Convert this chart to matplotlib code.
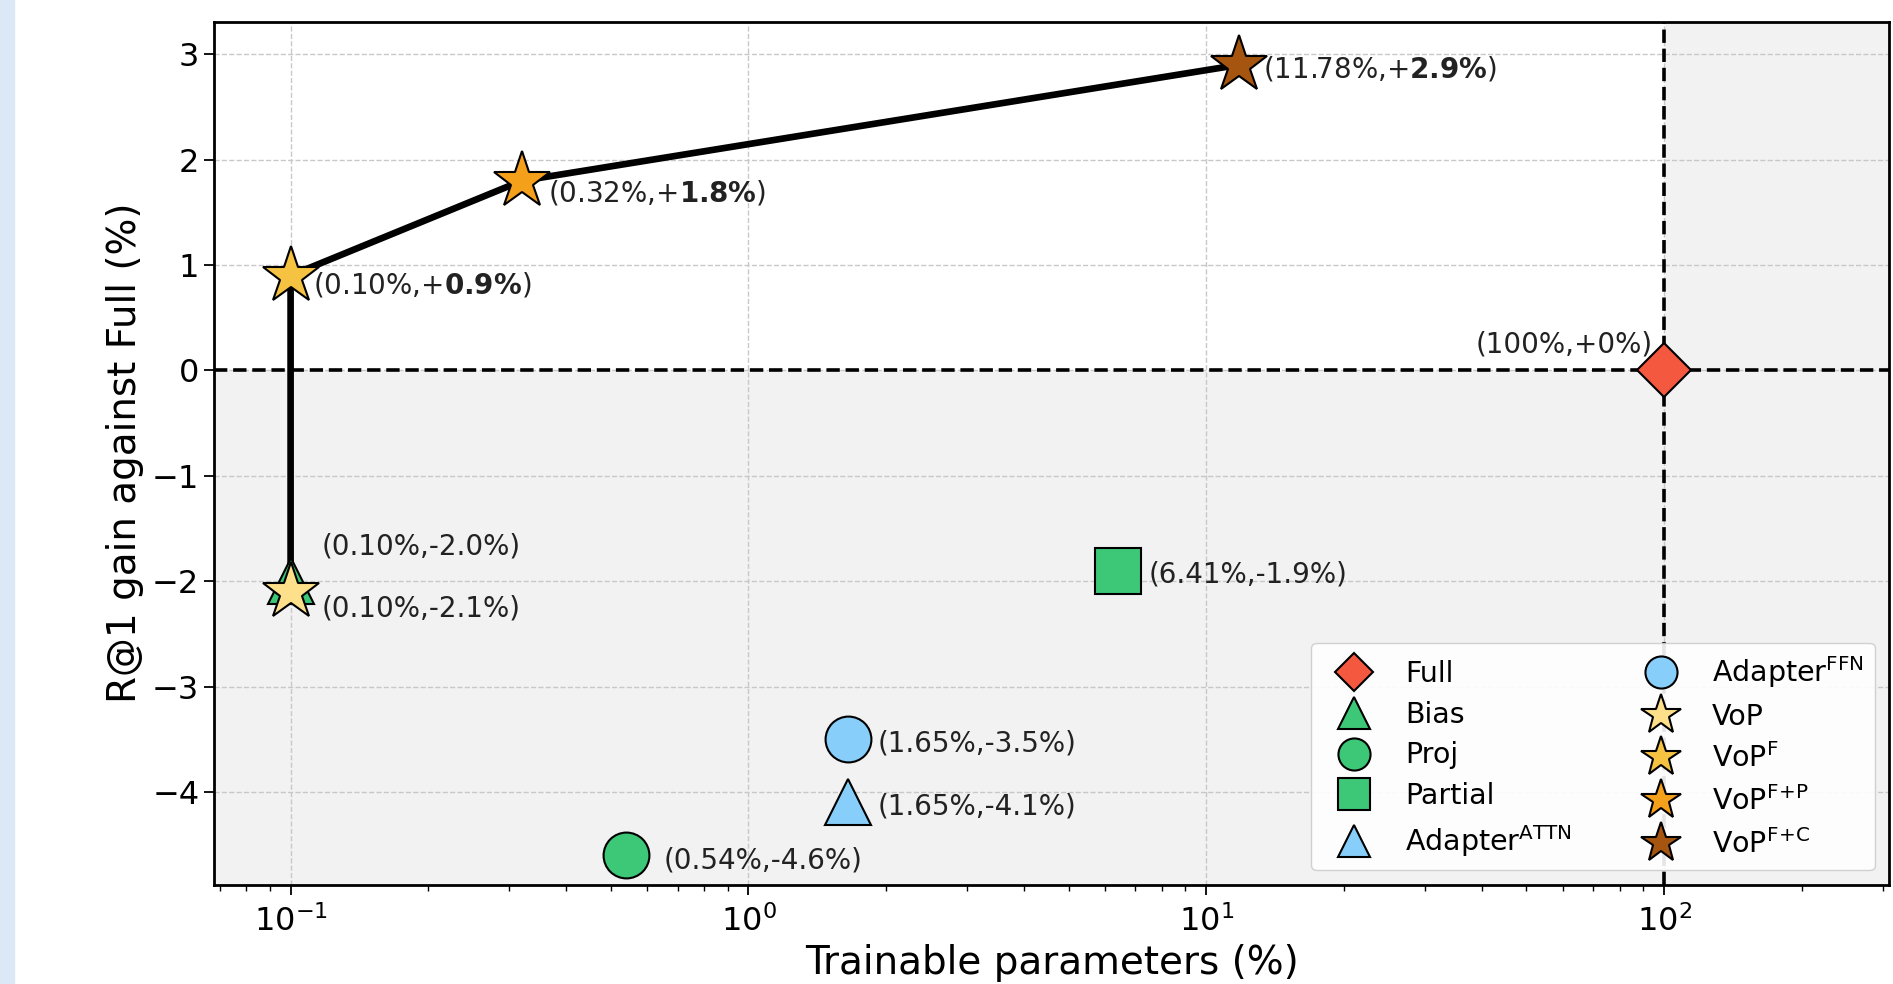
import matplotlib.pyplot as plt
from matplotlib.patches import Rectangle

# Methods, trainable parameters (%) and R@1 gain against Full (%)
methods = ["Full", "Bias", "Proj", "Partial", "Adapter$^{\\mathrm{ATTN}}$",
           "Adapter$^{\\mathrm{FFN}}$", "VoP", "VoP$^{\\mathrm{F}}$",
           "VoP$^{\\mathrm{F\\!+\\!P}}$", "VoP$^{\\mathrm{F\\!+\\!C}}$"]
params = [100, 0.10, 0.54, 6.41, 1.65, 1.65, 0.10, 0.10, 0.32, 11.78]
gains = [0.0, -2.0, -4.6, -1.9, -4.1, -3.5, -2.1, 0.9, 1.8, 2.9]
labels = ["(100%,+0%)", "(0.10%,-2.0%)", "(0.54%,-4.6%)", "(6.41%,-1.9%)",
          "(1.65%,-4.1%)", "(1.65%,-3.5%)", "(0.10%,-2.1%)",
          "(0.10%,+$\\mathbf{0.9\\%}$)", "(0.32%,+$\\mathbf{1.8\\%}$)",
          "(11.78%,+$\\mathbf{2.9\\%}$)"]

# VoP family connected by a line
vop_path = ["VoP", "VoP$^{\\mathrm{F}}$", "VoP$^{\\mathrm{F\\!+\\!P}}$",
            "VoP$^{\\mathrm{F\\!+\\!C}}$"]

markers = ["D", "^", "o", "s", "^", "o", "*", "*", "*", "*"]
colors = ["#f4583f", "#3dc878", "#3dc878", "#3dc878", "#87cefa", "#87cefa",
          "#ffe08a", "#f5c242", "#f5a01a", "#a5550f"]
sizes = [27, 33, 33, 33, 33, 33, 43, 43, 43, 43]
offsets = [(-8, 19), (22, 25), (27, -4), (22, -3), (21, -3), (21, -3),
           (22, -12), (16, -7), (19, -9), (17, -3)]
ha = ["right"] + ["left"] * 9

plt.rcParams["font.family"] = "DejaVu Sans"
plt.rcParams["mathtext.fontset"] = "dejavusans"

fig = plt.figure(figsize=(18.93, 9.84), dpi=100)
fig.patches.append(Rectangle((0, 0), 14 / 1893, 1, transform=fig.transFigure,
                             color="#dce8f6", zorder=0))
ax = fig.add_axes([0.113, 0.101, 0.885, 0.877])

xmin, xmax = 0.068, 310
ymin, ymax = -4.88, 3.31
ax.set_facecolor("#f2f2f2")
ax.fill_between([xmin, 100], 0, ymax, color="white", zorder=0)

ax.axhline(0, color="black", linestyle="--", linewidth=2.6, zorder=1)
ax.axvline(100, color="black", linestyle="--", linewidth=2.6, zorder=1)

# line through the VoP variants
idx = [methods.index(m) for m in vop_path]
ax.plot([params[i] for i in idx], [gains[i] for i in idx], color="black",
        linewidth=4.8, zorder=2)

for i, m in enumerate(methods):
    ax.plot(params[i], gains[i], linestyle="none", marker=markers[i],
            markersize=sizes[i], markerfacecolor=colors[i],
            markeredgecolor="black", markeredgewidth=1.5, label=m, zorder=3)
    ax.annotate(labels[i], (params[i], gains[i]), xytext=offsets[i],
                textcoords="offset points", ha=ha[i], va="center",
                fontsize=20, color="#222222", zorder=4)

ax.set_xscale("log")
ax.set_xlim(xmin, xmax)
ax.set_ylim(ymin, ymax)
ax.set_yticks([-4, -3, -2, -1, 0, 1, 2, 3])
ax.grid(True, which="major", linestyle="--", color="#c8c8c8", linewidth=1)
ax.set_axisbelow(True)
ax.tick_params(axis="both", which="major", labelsize=23, length=7, width=1.3)
ax.tick_params(axis="x", which="major", pad=8)
ax.tick_params(axis="both", which="minor", length=4, width=1)
for s in ax.spines.values():
    s.set_linewidth(2)

ax.set_xlabel("Trainable parameters (%)", fontsize=28, labelpad=4)
ax.set_ylabel("R@1 gain against Full (%)", fontsize=28, labelpad=6)

ax.legend(loc="lower right", ncol=2, fontsize=20.5, markerscale=0.7,
          framealpha=0.9, columnspacing=2.0, handletextpad=0.7,
          labelspacing=0.45, handlelength=2.2)

fig.savefig("out.png", dpi=100)
